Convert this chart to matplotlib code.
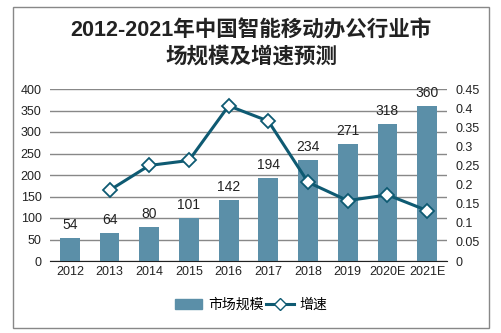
import matplotlib
matplotlib.use("Agg")
import matplotlib.pyplot as plt
from matplotlib.patches import Rectangle
from matplotlib.lines import Line2D

plt.rcParams['font.family'] = ['Liberation Sans', 'Noto Sans CJK SC', 'DejaVu Sans']

years = ['2012', '2013', '2014', '2015', '2016', '2017', '2018', '2019', '2020E', '2021E']
market_size = [54, 64, 80, 101, 142, 194, 234, 271, 318, 360]
growth_years = years[1:]
growth = [0.185, 0.25, 0.263, 0.406, 0.366, 0.206, 0.158, 0.173, 0.132]

bar_color = '#5B8FA8'
line_color = '#0E5A72'

fig = plt.figure(figsize=(5.02, 3.33), dpi=100)
fig.patches.append(Rectangle((13 / 502, 5 / 333), 476 / 502, 321 / 333, transform=fig.transFigure,
                             fill=False, edgecolor='#888888', linewidth=1))

ax = fig.add_axes([50 / 502, 72 / 333, 397 / 502, 172 / 333])
x = list(range(len(years)))
bars = ax.bar(x, market_size, width=0.5, color=bar_color, zorder=2)
for xi, v in zip(x, market_size):
    ax.text(xi, v + 14, str(v), ha='center', va='bottom', fontsize=10, color='#222222')

ax.set_ylim(0, 400)
ax.set_yticks(range(0, 401, 50))
ax.set_xlim(-0.5, len(years) - 0.5)
ax.set_xticks(x)
ax.set_xticklabels(years, fontsize=9)
ax.yaxis.grid(True, color='#888888', linewidth=1, zorder=0)
ax.set_axisbelow(True)
for s in ['top', 'left', 'right']:
    ax.spines[s].set_visible(False)
ax.spines['bottom'].set_color('#222222')
ax.tick_params(axis='both', length=0, labelsize=9, colors='#222222')
ax.tick_params(axis='y', pad=6)

ax2 = ax.twinx()
ax2.plot(x[1:], growth, color=line_color, linewidth=2.2, marker='D', markersize=7,
         markerfacecolor='white', markeredgecolor=line_color, markeredgewidth=1.3, zorder=3)
ax2.set_ylim(0, 0.45)
ax2.set_yticks([i * 0.05 for i in range(10)])
ax2.set_yticklabels(['0', '0.05', '0.1', '0.15', '0.2', '0.25', '0.3', '0.35', '0.4', '0.45'])
for s in ['top', 'left', 'right', 'bottom']:
    ax2.spines[s].set_visible(False)
ax2.tick_params(axis='y', length=0, labelsize=9, colors='#222222', pad=6)

fig.text(0.5, 0.907, '2012-2021年中国智能移动办公行业市', ha='center', va='center',
         fontsize=15.5, fontweight='bold', color='#222222')
fig.text(0.5, 0.83, '场规模及增速预测', ha='center', va='center',
         fontsize=15.5, fontweight='bold', color='#222222')

handles = [Rectangle((0, 0), 1, 1, color=bar_color),
           Line2D([], [], color=line_color, linewidth=2.2, marker='D', markersize=6,
                  markerfacecolor='white', markeredgecolor=line_color)]
fig.legend(handles, ['市场规模', '增速'], loc='center', bbox_to_anchor=(0.5, 0.085), ncol=2,
           frameon=False, fontsize=10, handlelength=2.0, columnspacing=0.2, handletextpad=0.4)

fig.savefig('out.png', dpi=100)
